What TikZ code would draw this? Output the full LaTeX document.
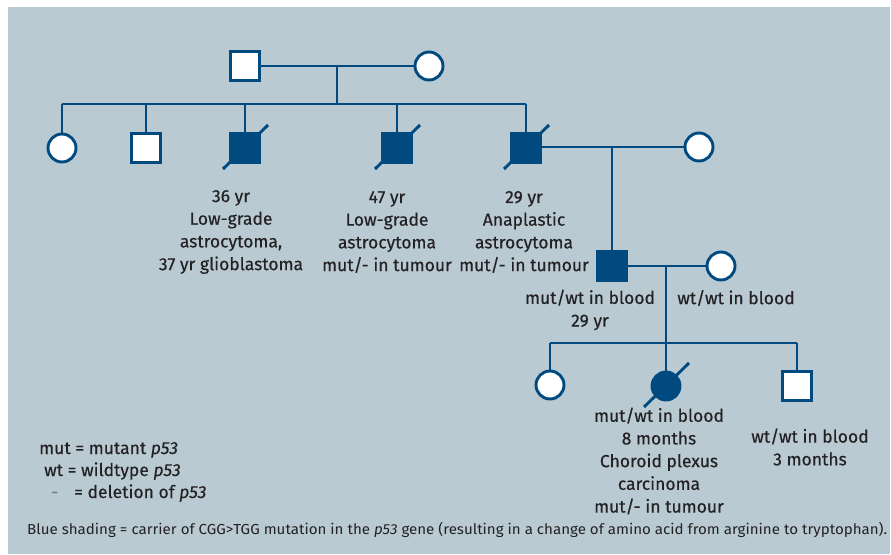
\documentclass[tikz,border=0pt]{standalone}
\usepackage{fontspec}
\setmainfont{Fira Sans}[FakeBold=0.35]
\newfontfamily\notefont{Fira Sans}
\usepackage{graphicx}
\definecolor{bgc}{RGB}{185,202,211}
\definecolor{pblue}{RGB}{0,74,128}
\definecolor{ptext}{RGB}{35,33,35}
\definecolor{pdash}{RGB}{120,120,125}
\begin{document}
\begin{tikzpicture}[x=1pt,y=-1pt,
  link/.style={draw=pblue, line width=2.9pt},
  male/.style={rectangle, draw=pblue, line width=2.9pt, fill=white, minimum size=29pt, inner sep=0pt},
  female/.style={circle, draw=pblue, line width=2.9pt, fill=white, minimum size=28pt, inner sep=0pt},
  aff/.style={fill=pblue},
  lbl/.style={text=ptext, align=center, font=\fontsize{17.5}{22.7}\selectfont, inner sep=0pt},
  leg/.style={text=ptext, anchor=base west, font=\fontsize{17.5}{18}\selectfont, inner sep=0pt},
]
\useasboundingbox (0,0) rectangle (891,554);
\fill[bgc] (8,7) rectangle (890,554);

% generation I
\node[male] (g1m) at (245,66) {};
\node[female] (g1f) at (429,66) {};
\coordinate (m1) at (337,66);
\coordinate (sib1) at (337,104);
\coordinate (sib1L) at (62,104);
\coordinate (sib1R) at (526,104);

% generation II
\node[female] (c1) at (62,148) {};
\node[male] (c2) at (146,148) {};
\node[male,aff] (c3) at (245,148) {};
\node[male,aff] (c4) at (397,148) {};
\node[male,aff] (c5) at (526,148) {};
\node[female] (p5) at (699,147) {};
\coordinate (m2) at (612,147);

% generation III
\node[male,aff] (d1) at (612,266) {};
\node[female] (q1) at (721,266) {};
\coordinate (m3) at (666,266);
\coordinate (sib3) at (666,343);
\coordinate (sib3L) at (550,343);
\coordinate (sib3R) at (797,343);

% generation IV
\node[female] (e1) at (550,385) {};
\node[female,aff] (e2) at (666,386) {};
\node[male] (e3) at (797,386) {};

% connectors
\draw[link] (g1m.east) -- (g1f.west);
\draw[link] (m1) -- (sib1);
\draw[link] (sib1L) -- (sib1R);
\foreach \c in {c1,c2,c3,c4,c5}{
  \draw[link] (\c.north) -- (\c.north |- sib1);
}
\draw[link] (c5.east |- m2) -- (p5.west);
\draw[link] (m2) -- (d1.north);
\draw[link] (d1.east) -- (q1.west);
\draw[link] (m3) -- (sib3);
\draw[link] (sib3L) -- (sib3R);
\foreach \c in {e1,e2,e3}{
  \draw[link] (\c.north) -- (\c.north |- sib3);
}

% deceased slashes
\foreach \c in {c3,c4,c5,e2}{
  \draw[link] ([shift={(-22,21)}]\c.center) -- ([shift={(23,-23)}]\c.center);
}

% labels
\node[lbl] (t3) at (231,232) {36 yr\\Low-grade\\astrocytoma,\\37 yr glioblastoma};
\node[lbl] (t4) at (387,232) {47 yr\\Low-grade\\astrocytoma\\mut/- in tumour};
\node[lbl] (t5) at (524,232) {29 yr\\Anaplastic\\astrocytoma\\mut/- in tumour};
\node[lbl] (td1) at (590,310) {mut/wt in blood\\29 yr};
\node[lbl] (tq1) at (736,298) {wt/wt in blood};
\node[lbl] (te2) at (659,461) {mut/wt in blood\\8 months\\Choroid plexus\\carcinoma\\mut/- in tumour};
\node[lbl] (te3) at (810,447) {wt/wt in blood\\3 months};

% legend
\node[leg] (k1) at (39,454) {mut = mutant \textit{p53}};
\node[leg] (k2) at (44,476) {wt = wildtype \textit{p53}};
\node[leg, text=pdash] (k3) at (51,498) {-};
\node[leg] (k4) at (74,498) {= deletion of \textit{p53}};

% footnote
\node[text=ptext, inner sep=0pt, anchor=base west, font=\notefont\fontsize{14.5}{16}\selectfont] (fn) at (27,534)
  {\resizebox{860pt}{\height}{Blue shading = carrier of CGG>TGG mutation in the \textit{p53} gene (resulting in a change of amino acid from arginine to tryptophan).}};
\end{tikzpicture}
\end{document}
